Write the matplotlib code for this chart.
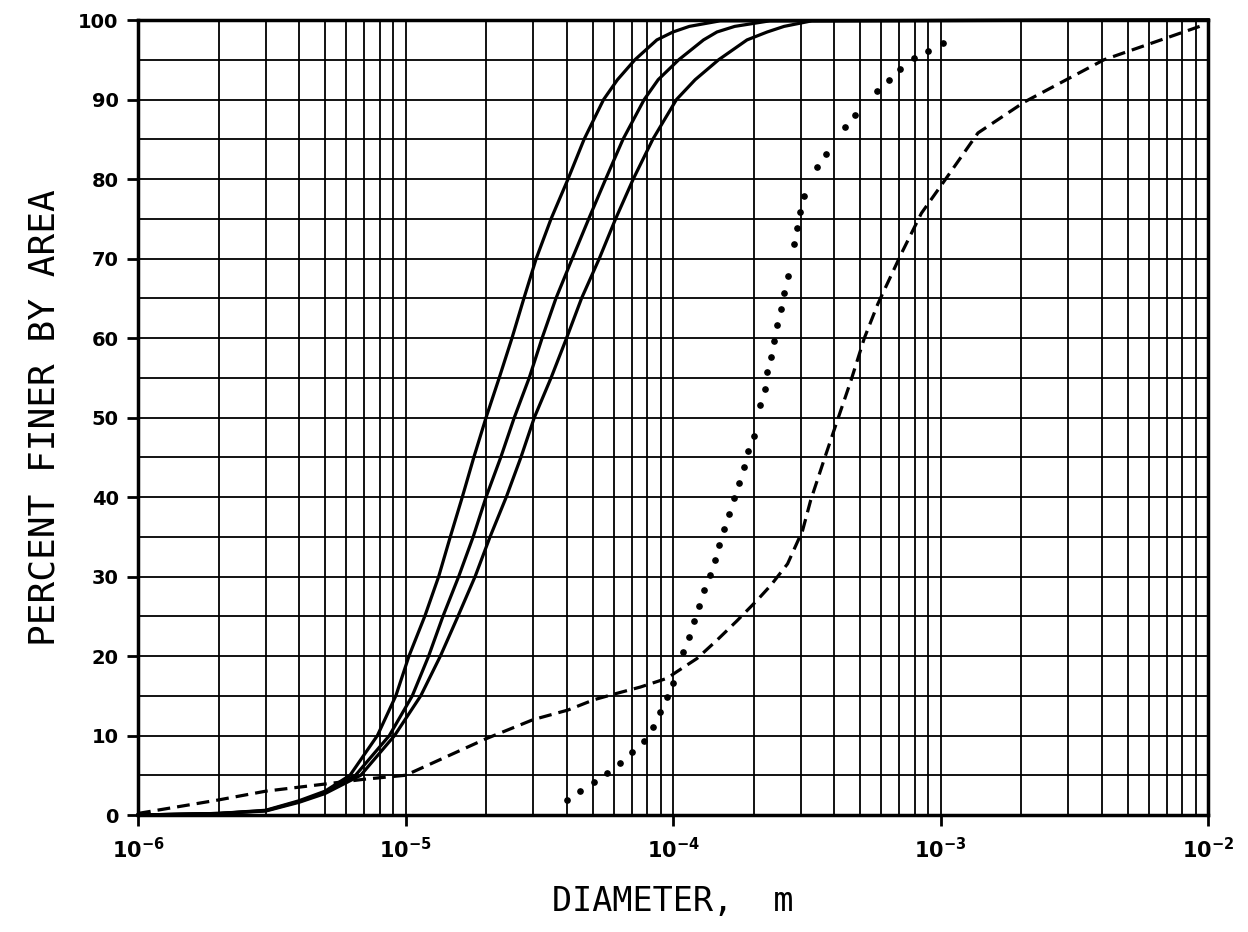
import matplotlib
matplotlib.use("Agg")
import matplotlib.pyplot as plt
from matplotlib.ticker import LogLocator, MultipleLocator, FixedLocator, NullFormatter, FuncFormatter
import numpy as np

# --- data ----------------------------------------------------------------
# three solid size-distribution curves (diameter in m, percent finer)
solid_1_d = [1e-6, 2e-6, 3e-6, 4e-6, 5e-6, 6.2e-6, 7.85e-6, 9.2e-6, 1.03e-5, 1.18e-5,
             1.33e-5, 1.47e-5, 1.63e-5, 1.80e-5, 2.0e-5, 2.24e-5, 2.5e-5, 2.77e-5,
             3.08e-5, 3.5e-5, 4.05e-5, 4.65e-5, 5.5e-5, 6.2e-5, 7.2e-5, 8.7e-5, 1.0e-4,
             1.15e-4, 1.5e-4, 1e-2]
solid_1_p = [0, 0.2, 0.6, 1.8, 3.0, 5, 10, 15, 20, 25, 30, 35, 40, 45, 50, 55, 60, 65,
             70, 75, 80, 85, 90, 92.5, 95, 97.5, 98.5, 99.2, 99.9, 100]

solid_2_d = [1e-6, 2e-6, 3e-6, 4e-6, 5e-6, 6.5e-6, 8.7e-6, 1.06e-5, 1.22e-5, 1.38e-5,
             1.58e-5, 1.79e-5, 2.0e-5, 2.27e-5, 2.55e-5, 2.9e-5, 3.24e-5, 3.65e-5,
             4.2e-5, 4.84e-5, 5.6e-5, 6.5e-5, 7.8e-5, 8.8e-5, 1.05e-4, 1.3e-4, 1.46e-4,
             1.7e-4, 2.3e-4, 1e-2]
solid_2_p = [0, 0.2, 0.55, 1.7, 2.8, 5, 10, 15, 20, 25, 30, 35, 40, 45, 50, 55, 60, 65,
             70, 75, 80, 85, 90, 92.5, 95, 97.5, 98.5, 99.2, 99.9, 100]

solid_3_d = [1e-6, 2e-6, 3e-6, 4e-6, 5e-6, 6.8e-6, 9.1e-6, 1.14e-5, 1.35e-5, 1.57e-5,
             1.82e-5, 2.07e-5, 2.38e-5, 2.7e-5, 3.03e-5, 3.5e-5, 4.0e-5, 4.55e-5,
             5.3e-5, 6.1e-5, 7.1e-5, 8.4e-5, 1.03e-4, 1.21e-4, 1.48e-4, 1.89e-4, 2.25e-4,
             2.6e-4, 3.3e-4, 1e-2]
solid_3_p = [0, 0.2, 0.5, 1.6, 2.7, 5, 10, 15, 20, 25, 30, 35, 40, 45, 50, 55, 60, 65,
             70, 75, 80, 85, 90, 92.5, 95, 97.5, 98.5, 99.2, 99.9, 100]

# dotted (measured points)
dot_d = [4.01e-5, 4.49e-5, 5.05e-5, 5.65e-5, 6.31e-5, 7.03e-5, 7.81e-5, 8.41e-5,
         8.95e-5, 9.48e-5, 1.0e-4, 1.09e-4, 1.15e-4, 1.20e-4, 1.25e-4, 1.31e-4,
         1.37e-4, 1.43e-4, 1.49e-4, 1.55e-4, 1.62e-4, 1.69e-4, 1.77e-4, 1.84e-4,
         1.91e-4, 2.00e-4, 2.12e-4, 2.20e-4, 2.25e-4, 2.33e-4, 2.38e-4, 2.45e-4,
         2.54e-4, 2.60e-4, 2.68e-4, 2.83e-4, 2.90e-4, 2.98e-4, 3.09e-4, 3.44e-4,
         3.73e-4, 4.39e-4, 4.79e-4, 5.78e-4, 6.41e-4, 7.07e-4, 7.94e-4, 8.99e-4,
         1.02e-3]
dot_p = [1.9, 3.0, 4.1, 5.3, 6.6, 7.9, 9.3, 11.1, 12.9, 14.8, 16.6, 20.5, 22.4, 24.4,
         26.3, 28.3, 30.2, 32.1, 34.0, 36.0, 37.9, 39.9, 41.8, 43.8, 45.8, 47.7, 51.6,
         53.6, 55.7, 57.6, 59.6, 61.7, 63.7, 65.7, 67.8, 71.8, 73.8, 75.8, 77.9, 81.5,
         83.1, 86.5, 88.0, 91.1, 92.5, 93.8, 95.2, 96.1, 97.1]

# dashed curve
dash_d = [1e-6, 2e-6, 3e-6, 5e-6, 7e-6, 1e-5, 2e-5, 3e-5, 4.04e-5, 5.06e-5, 6.0e-5,
          7.55e-5, 9.5e-5, 1.03e-4, 1.23e-4, 1.46e-4, 1.73e-4, 2.06e-4, 2.32e-4,
          2.68e-4, 3.05e-4, 3.27e-4, 3.67e-4, 4.12e-4, 4.63e-4, 5.19e-4, 5.83e-4,
          7.13e-4, 8.48e-4, 1.04e-3, 1.38e-3, 2.06e-3, 4.08e-3, 9.3e-3]
dash_p = [0.2, 1.9, 3.0, 3.9, 4.5, 5.0, 9.6, 12.0, 13.2, 14.5, 15.2, 16.1, 17.2, 18.0,
          19.7, 22.0, 24.4, 27.0, 28.9, 31.6, 35.8, 39.6, 44.7, 49.7, 54.7, 60.0, 64.3,
          70.6, 75.7, 79.9, 85.8, 89.7, 95.0, 99.2]

y_ticks = list(range(0, 101, 10))

# --- figure ----------------------------------------------------------------
plt.rcParams['mathtext.fontset'] = 'dejavusans'

fig = plt.figure(figsize=(12.48, 9.32), dpi=100)
ax = fig.add_axes([0.1106, 0.1255, 0.8574, 0.853])

ax.set_xscale('log')
ax.set_xlim(1e-6, 1e-2)
ax.set_ylim(0, 100)

# grid on every decade subdivision and every 5 percent
ax.xaxis.set_major_locator(LogLocator(base=10, numticks=10))
ax.xaxis.set_major_formatter(FuncFormatter(
    lambda v, pos: r'$\mathbf{10^{%d}}$' % int(round(np.log10(v)))))
ax.xaxis.set_minor_locator(LogLocator(base=10, subs=range(2, 10), numticks=50))
ax.xaxis.set_minor_formatter(NullFormatter())
ax.yaxis.set_major_locator(FixedLocator(y_ticks))
ax.yaxis.set_minor_locator(MultipleLocator(5))
ax.grid(True, which='both', color='black', lw=1.3)
ax.set_axisbelow(True)

ax.tick_params(which='major', direction='out', length=8, width=2, labelsize=14, pad=6)
ax.tick_params(axis='x', which='major', labelsize=15, pad=8)
ax.tick_params(which='minor', length=0)
for lab in ax.get_yticklabels():
    lab.set_fontweight('bold')
for s in ax.spines.values():
    s.set_linewidth(2.5)

lw = 2.3
ax.plot(solid_1_d, solid_1_p, color='black', lw=lw, clip_on=False)
ax.plot(solid_2_d, solid_2_p, color='black', lw=lw, clip_on=False)
ax.plot(solid_3_d, solid_3_p, color='black', lw=lw, clip_on=False)
ax.plot(dot_d, dot_p, linestyle='none', marker='o', ms=3.8, color='black')
ax.plot(dash_d, dash_p, color='black', lw=2.3, dashes=(4, 2.2))

ax.set_xlabel('DIAMETER,  m', family='DejaVu Sans Mono', fontsize=24, labelpad=16)
ax.set_ylabel('PERCENT FINER BY AREA', family='DejaVu Sans Mono', fontsize=26, labelpad=12)

fig.savefig('out.png', dpi=100)
